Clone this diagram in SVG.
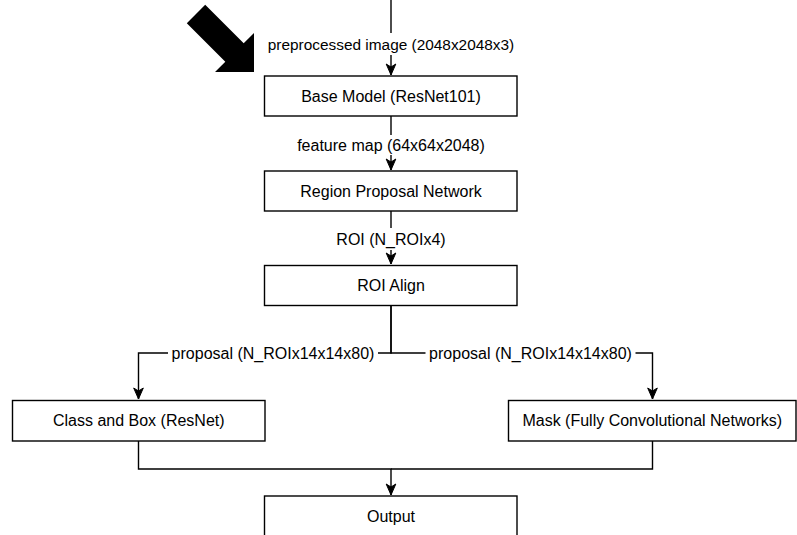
<svg xmlns="http://www.w3.org/2000/svg" width="797" height="535" viewBox="0 0 797 535">
  <style>
    .box { fill: #ffffff; stroke: #000000; stroke-width: 1.4; }
    .edge { fill: none; stroke: #000000; stroke-width: 1.4; }
    .lbl-bg { fill: #ffffff; stroke: none; }
    text { font-family: "Liberation Sans", Arial, sans-serif; font-size: 16px; fill: #000000; text-anchor: middle; }
    .narrow { font-size: 15.4px; }
  </style>
  <defs>
    <marker id="arrow" markerUnits="userSpaceOnUse" markerWidth="14" markerHeight="12" refX="0" refY="0" viewBox="-12 -6 14 12" orient="auto" overflow="visible">
      <path d="M0,0 L-11,-4.8 L-8,0 L-11,4.8 Z" fill="#000000" stroke="#000000" stroke-width="1"/>
    </marker>
  </defs>

  <rect width="797" height="535" fill="#ffffff"/>

  <!-- Big pointer arrow -->
  <polygon id="pointer" points="205.2,4.8 243.7,43.3 254,33 254,72 215,72 225.3,61.7 186.8,23.2" fill="#000000"/>

  <!-- Connectors -->
  <g id="connectors">
    <path class="edge" d="M391,0 V75" marker-end="url(#arrow)"/>
    <path class="edge" d="M391,116 V170" marker-end="url(#arrow)"/>
    <path class="edge" d="M391,211 V264" marker-end="url(#arrow)"/>
    <path class="edge" d="M391,306 V353 H138.5 V399" marker-end="url(#arrow)"/>
    <path class="edge" d="M391,306 V353 H652.5 V399" marker-end="url(#arrow)"/>
    <path class="edge" d="M138.5,441 V469 H391 V495" marker-end="url(#arrow)"/>
    <path class="edge" d="M652.5,441 V469 H391"/>

    <!-- Edge labels -->
    <g id="label-input">
      <rect class="lbl-bg" x="266" y="33" width="250" height="22"/>
      <text class="narrow" x="391" y="50">preprocessed image (2048x2048x3)</text>
    </g>
    <g id="label-features">
      <rect class="lbl-bg" x="297" y="135" width="188" height="20"/>
      <text x="391" y="150.5">feature map (64x64x2048)</text>
    </g>
    <g id="label-roi">
      <rect class="lbl-bg" x="336" y="228" width="110" height="22"/>
      <text x="391" y="245">ROI (N_ROIx4)</text>
    </g>
    <g id="label-proposal-left">
      <rect class="lbl-bg" x="168" y="343" width="210" height="20"/>
      <text x="273" y="358.5">proposal (N_ROIx14x14x80)</text>
    </g>
    <g id="label-proposal-right">
      <rect class="lbl-bg" x="425.5" y="343" width="210" height="20"/>
      <text x="530.5" y="358.5">proposal (N_ROIx14x14x80)</text>
    </g>
  </g>

  <!-- Nodes -->
  <g id="base-model">
    <rect class="box" x="264.5" y="76" width="252.5" height="40"/>
    <text x="391" y="101.5">Base Model (ResNet101)</text>
  </g>
  <g id="region-proposal-network">
    <rect class="box" x="264.5" y="171" width="252.5" height="40"/>
    <text x="391" y="196.5">Region Proposal Network</text>
  </g>
  <g id="roi-align">
    <rect class="box" x="264.5" y="265.5" width="252.5" height="40"/>
    <text x="391" y="291">ROI Align</text>
  </g>
  <g id="class-and-box">
    <rect class="box" x="12.5" y="400.5" width="252.5" height="40.5"/>
    <text x="138.75" y="426">Class and Box (ResNet)</text>
  </g>
  <g id="mask">
    <rect class="box" x="508.5" y="400.5" width="287.5" height="40.5"/>
    <text x="652.25" y="426">Mask (Fully Convolutional Networks)</text>
  </g>
  <g id="output">
    <rect class="box" x="264.5" y="496" width="252.5" height="41"/>
    <text x="391" y="522">Output</text>
  </g>
</svg>
